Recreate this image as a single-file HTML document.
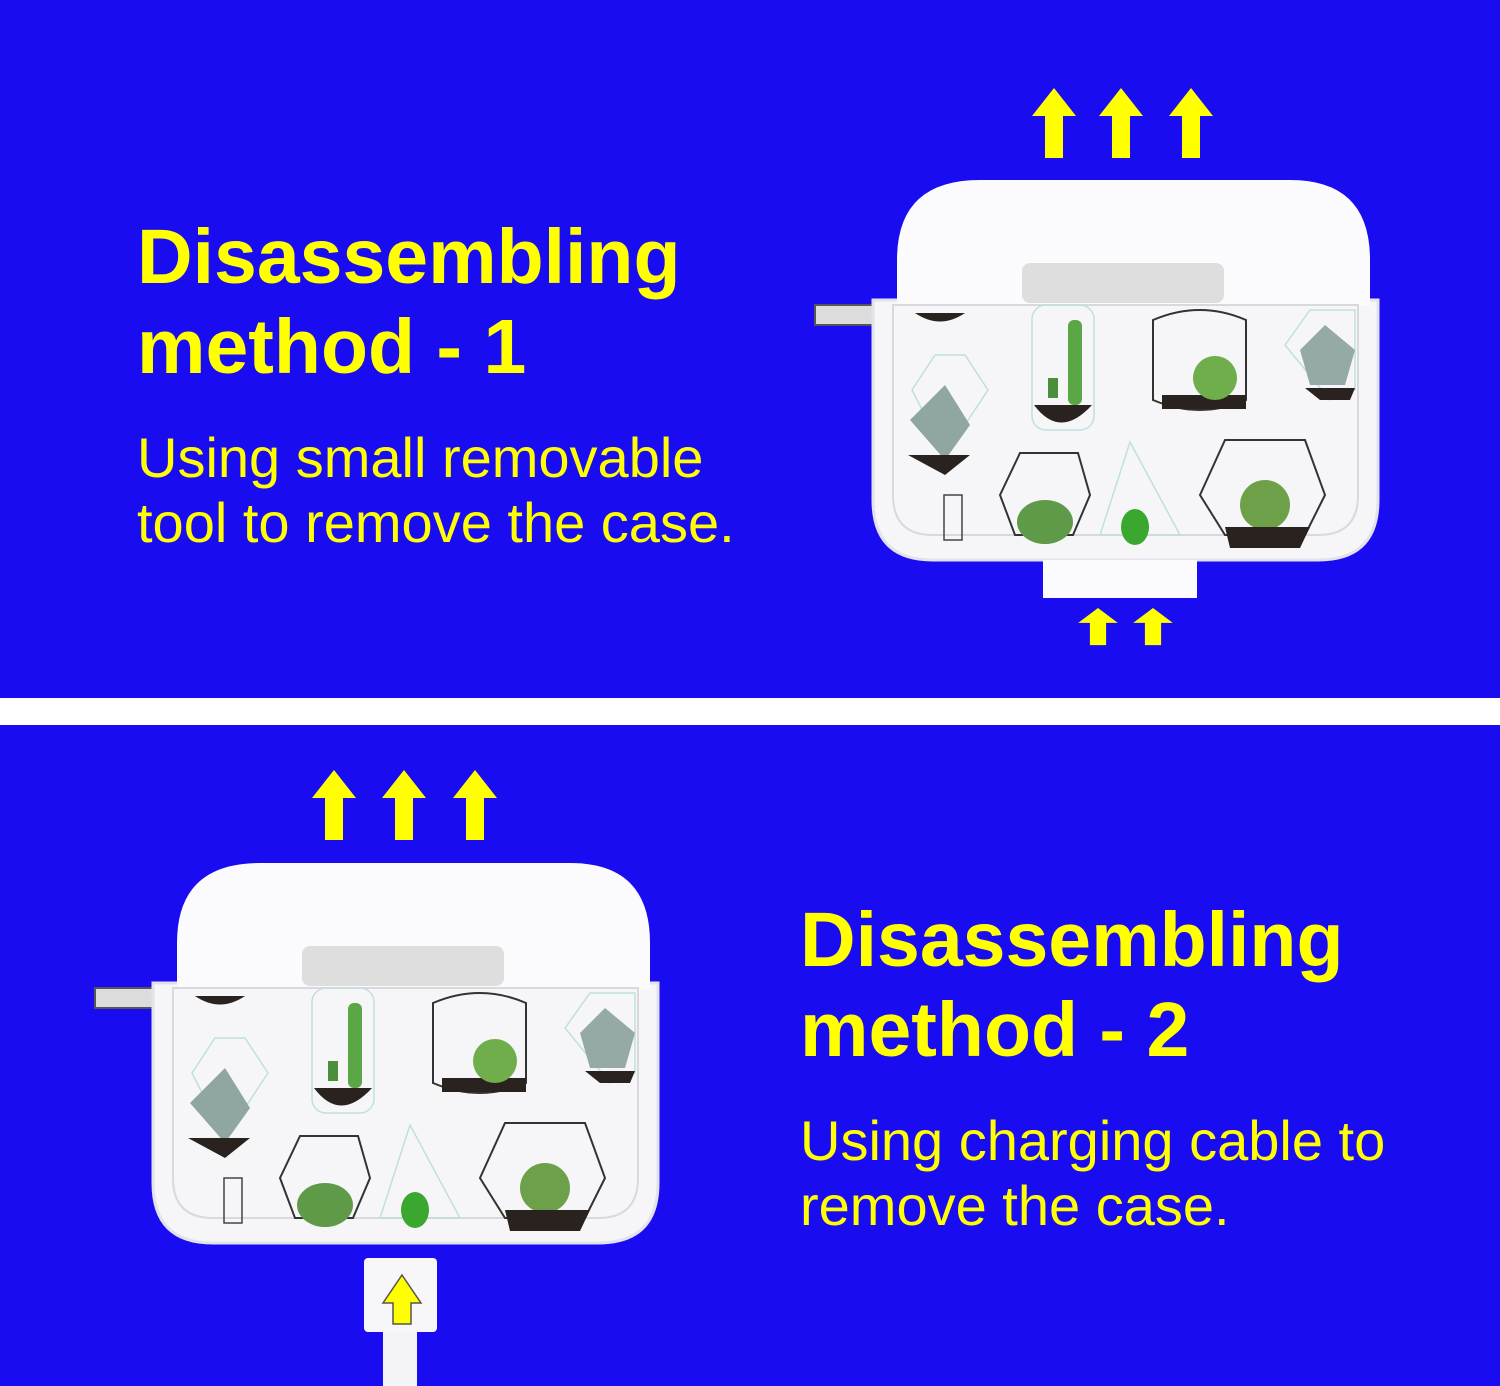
<!DOCTYPE html>
<html><head><meta charset="utf-8"><style>
body{margin:0;background:#1a0cf0;}
svg{display:block}
text{font-family:"Liberation Sans",sans-serif;fill:#ffff00}
</style></head><body>
<svg width="1500" height="1386" viewBox="0 0 1500 1386" xmlns="http://www.w3.org/2000/svg">
<rect width="1500" height="1386" fill="#1a0cf0"/>
<rect x="0" y="698" width="1500" height="27" fill="#ffffff"/>
<defs>
<g id="arrow"><polygon points="0,0 22,28 9,28 9,70 -9,70 -9,28 -22,28" fill="#ffff00"/></g>
<g id="case">
 <rect x="815" y="305" width="75" height="20" fill="#dcdcdc" stroke="#555" stroke-width="2"/>
 <rect x="1355" y="300" width="22" height="22" fill="#ccc" stroke="#555" stroke-width="2"/>
 <path d="M897,500 L897,260 Q897,180 980,180 L1290,180 Q1370,180 1370,260 L1370,500 Z" fill="#fbfbfd"/>
 <path d="M873,300 L1378,300 L1378,500 Q1378,560 1318,560 L933,560 Q873,560 873,500 Z" fill="#f6f6f8" stroke="#e2e2ea" stroke-width="3"/>
 <rect x="897" y="298" width="473" height="8" fill="#fbfbfd"/>
 <rect x="1022" y="263" width="202" height="40" rx="8" fill="#dedede"/>
 <path d="M893,305 L1358,305 L1358,495 Q1358,535 1318,535 L933,535 Q893,535 893,495 Z" fill="none" stroke="#d8d8de" stroke-width="2"/>
 <path d="M915,313 Q940,330 965,313 Z" fill="#2a221e"/>
 <rect x="1032" y="305" width="62" height="125" rx="14" fill="none" stroke="#bfe0dc" stroke-width="1.5"/>
 <path d="M1034,405 Q1060,440 1092,405 Z" fill="#2a221e"/>
 <rect x="1068" y="320" width="14" height="85" rx="6" fill="#5aa845"/>
 <rect x="1048" y="378" width="10" height="20" fill="#4b8f3a"/>
 <path d="M1153,320 Q1200,300 1246,320 L1246,400 Q1200,420 1153,400 Z" fill="none" stroke="#333" stroke-width="2"/>
 <rect x="1162" y="395" width="84" height="14" fill="#2a221e"/>
 <ellipse cx="1215" cy="378" rx="22" ry="22" fill="#6fae4a"/>
 <polygon points="912,390 935,355 965,355 988,390 945,455" fill="none" stroke="#bfe0dc" stroke-width="1.5"/>
 <path d="M910,420 L945,385 L970,425 L945,460 Z" fill="#8fa6a2"/>
 <path d="M908,455 L970,455 L945,475 Z" fill="#2a221e"/>
 <polygon points="1285,345 1310,310 1355,310 1355,390 1330,400" fill="none" stroke="#bfe0dc" stroke-width="1.5"/>
 <path d="M1300,350 L1325,325 L1355,350 L1345,385 L1310,385 Z" fill="#95aaa6"/>
 <path d="M1305,388 L1355,388 L1350,400 L1320,400 Z" fill="#2a221e"/>
 <polygon points="1000,495 1020,453 1078,453 1090,495 1073,535 1015,535" fill="none" stroke="#333" stroke-width="2"/>
 <ellipse cx="1045" cy="522" rx="28" ry="22" fill="#5f9a48"/>
 <polygon points="1130,442 1100,535 1180,535" fill="none" stroke="#bfe0dc" stroke-width="1.5"/>
 <ellipse cx="1135" cy="527" rx="14" ry="18" fill="#3aa72e"/>
 <polygon points="1200,495 1225,440 1305,440 1325,495 1305,535 1225,535" fill="none" stroke="#333" stroke-width="2"/>
 <circle cx="1265" cy="505" r="25" fill="#6ea04a"/>
 <path d="M1225,527 L1310,527 L1300,548 L1230,548 Z" fill="#2a221e"/>
 <rect x="944" y="495" width="18" height="45" fill="none" stroke="#444" stroke-width="1.5"/>
</g>
</defs>
<text x="137" y="283" font-size="77" font-weight="bold">Disassembling</text>
<text x="137" y="373" font-size="77" font-weight="bold">method - 1</text>
<text x="137" y="477" font-size="56">Using small removable</text>
<text x="137" y="542" font-size="56">tool to remove the case.</text>
<use href="#arrow" x="1054" y="88"/>
<use href="#arrow" x="1121" y="88"/>
<use href="#arrow" x="1191" y="88"/>
<use href="#case"/>
<rect x="1043" y="560" width="154" height="38" fill="#fbfbff"/>
<g transform="translate(1098,608) scale(0.9,0.53)"><use href="#arrow"/></g>
<g transform="translate(1153,608) scale(0.9,0.53)"><use href="#arrow"/></g>
<use href="#arrow" x="334" y="770"/>
<use href="#arrow" x="404" y="770"/>
<use href="#arrow" x="475" y="770"/>
<g transform="translate(-720,683)"><use href="#case"/></g>
<rect x="383" y="1320" width="34" height="66" fill="#f4f4f6"/>
<rect x="364" y="1258" width="73" height="74" rx="4" fill="#f7f7f9"/>
<polygon points="402,1275 421,1303 411,1303 411,1324 393,1324 393,1303 383,1303" fill="#ffff00" stroke="#555" stroke-width="1.5"/>
<text x="800" y="966" font-size="77" font-weight="bold">Disassembling</text>
<text x="800" y="1056" font-size="77" font-weight="bold">method - 2</text>
<text x="800" y="1160" font-size="56">Using charging cable to</text>
<text x="800" y="1225" font-size="56">remove the case.</text>
</svg>
</body></html>
